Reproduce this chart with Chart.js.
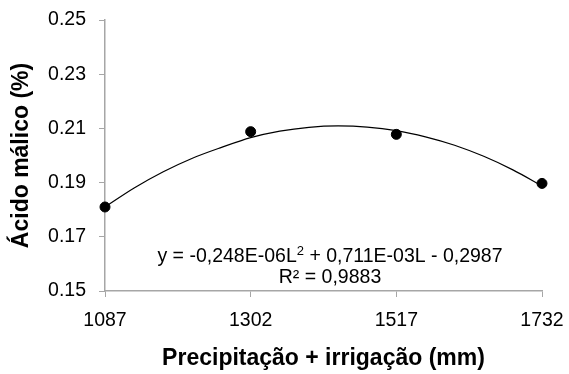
<!DOCTYPE html>
<html>
<head>
<meta charset="utf-8">
<script src="https://cdn.jsdelivr.net/npm/chart.js@4/dist/chart.umd.min.js"></script>
<style>
  html, body { margin: 0; padding: 0; background: #fff; }
  #wrap { width: 569px; height: 374px; }
</style>
</head>
<body>
<div id="wrap"><canvas id="chart" width="569" height="374"></canvas></div>
<script>
// observed points
const rainfall = [1087, 1302, 1517, 1732];
const malicAcid = [0.181, 0.2088, 0.2078, 0.1897];

// fitted curve at a few positions
const curveL = [1087, 1130, 1173, 1216, 1259, 1302, 1345, 1388, 1431, 1474, 1517, 1560, 1603, 1646, 1689, 1732];
const curveY = [0.181, 0.188, 0.194, 0.199, 0.203, 0.2066, 0.209, 0.2104, 0.2109, 0.2105, 0.2092, 0.2069, 0.2038, 0.1997, 0.1947, 0.1888];

const xTicks = [1087, 1302, 1517, 1732];
const yTicks = [0.15, 0.17, 0.19, 0.21, 0.23, 0.25];

const eqLine1 = ['y = -0,248E-06L', '2', ' + 0,711E-03L - 0,2987'];
const eqLine2 = 'R² = 0,9883';

const axisGray = '#a6a6a6';
const fontFam = '"Liberation Sans", Arial, sans-serif';

const equationPlugin = {
	id: 'equation',
	afterDraw(chart) {
		const ctx = chart.ctx;
		ctx.save();
		ctx.fillStyle = '#000';
		ctx.textBaseline = 'middle';
		const mainFont = '19.5px ' + fontFam;
		const supFont = '13px ' + fontFam;
		// first line, with a raised 2
		ctx.font = mainFont;
		const w0 = ctx.measureText(eqLine1[0]).width;
		const w2 = ctx.measureText(eqLine1[2]).width;
		ctx.font = supFont;
		const w1 = ctx.measureText(eqLine1[1]).width;
		const cx = 330;
		let x = cx - (w0 + w1 + w2) / 2;
		ctx.textAlign = 'left';
		ctx.font = mainFont;
		ctx.fillText(eqLine1[0], x, 257);
		x += w0;
		ctx.font = supFont;
		ctx.fillText(eqLine1[1], x, 251);
		x += w1;
		ctx.font = mainFont;
		ctx.fillText(eqLine1[2], x, 257);
		ctx.textAlign = 'center';
		ctx.fillText(eqLine2, cx, 278);
		ctx.restore();
	}
};

new Chart(document.getElementById('chart'), {
	type: 'scatter',
	data: {
		datasets: [
			{
				label: 'curve',
				data: curveL.map((l, i) => ({ x: l, y: curveY[i] })),
				showLine: true,
				borderColor: '#000',
				borderWidth: 1.2,
				pointRadius: 0,
				cubicInterpolationMode: 'monotone',
				clip: false,
				order: 2
			},
			{
				label: 'points',
				data: rainfall.map((l, i) => ({ x: l, y: malicAcid[i] })),
				backgroundColor: '#000',
				borderColor: '#000',
				pointRadius: 5,
				clip: false,
				order: 1
			}
		]
	},
	options: {
		responsive: false,
		animation: false,
		layout: { padding: { top: 20, right: 27, left: 0, bottom: 0 } },
		plugins: {
			legend: { display: false },
			tooltip: { enabled: false }
		},
		scales: {
			x: {
				type: 'linear',
				min: 1087,
				max: 1732,
				afterBuildTicks: s => { s.ticks = xTicks.map(v => ({ value: v })); },
				afterFit: s => { s.height = 83; s.paddingLeft = 0; s.paddingRight = 0; },
				grid: { drawOnChartArea: false, drawTicks: true, tickLength: 6, color: axisGray },
				border: { color: axisGray, width: 1.5 },
				ticks: {
					color: '#000',
					padding: 12,
					font: { size: 19.5, family: fontFam },
					maxRotation: 0,
					callback: v => String(v)
				},
				title: {
					display: true,
					text: 'Precipitação + irrigação (mm)',
					color: '#000',
					font: { size: 23, weight: 'bold', family: fontFam },
					padding: { top: 0, bottom: 2 }
				}
			},
			y: {
				min: 0.15,
				max: 0.25,
				afterBuildTicks: s => { s.ticks = yTicks.map(v => ({ value: v })); },
				afterFit: s => { s.width = 105; s.paddingTop = 0; s.paddingBottom = 0; },
				grid: { drawOnChartArea: false, drawTicks: true, tickLength: 6, color: axisGray },
				border: { color: axisGray, width: 1.5 },
				ticks: {
					color: '#000',
					padding: 13,
					font: { size: 19.5, family: fontFam },
					callback: v => v.toFixed(2)
				},
				title: {
					display: true,
					text: 'Ácido málico (%)',
					color: '#000',
					font: { size: 23, weight: 'bold', family: fontFam },
					padding: { top: 8, bottom: 0 }
				}
			}
		}
	},
	plugins: [equationPlugin]
});
</script>
</body>
</html>
